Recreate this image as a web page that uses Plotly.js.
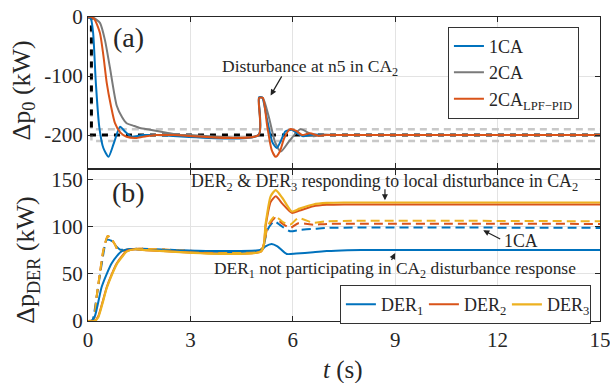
<!DOCTYPE html>
<html>
<head>
<meta charset="utf-8">
<script src="https://cdn.plot.ly/plotly-3.0.1.min.js"></script>
<style>html,body{margin:0;padding:0;background:#fff;}#chart{width:610px;height:383px;}</style>
</head>
<body>
<div id="chart"></div>
<script>
// ---------- Panel (a): Δp0 ----------
const tRef = [0, 0.1, 0.1, 15];
const pRef = [0, 0, -200, -200];
const pBandHi = [0, 0, -190, -190];
const pBandLo = [0, 0, -210, -210];

const t1CA = [0, 0.08, 0.15, 0.23, 0.33, 0.45, 0.6, 0.75, 0.94, 1.1, 1.28, 1.6, 2.0, 5.0, 5.01, 5.1, 5.25, 5.4, 5.53, 5.65, 5.78, 5.97, 6.15, 6.3, 6.6, 7.0, 15];
const p1CA = [0, -2, -27, -112, -186, -222, -237, -215, -186, -195, -203, -200, -200, -200, -136, -136, -175, -212, -222, -210, -194, -191, -198, -202, -199, -200, -200];

const t2CA = [0, 0.15, 0.35, 0.5, 0.64, 0.84, 1.0, 1.13, 1.32, 1.52, 1.82, 2.3, 2.7, 3.0, 5.0, 5.01, 5.12, 5.3, 5.48, 5.65, 5.9, 6.22, 6.45, 6.6, 6.9, 7.2, 15];
const p2CA = [0, -1, -10, -40, -85, -150, -170, -180, -184, -188, -191, -196, -200, -200, -200, -137, -137, -170, -212, -228, -210, -190, -196, -202, -199, -200, -200];

const tLPF = [0, 0.1, 0.2, 0.35, 0.45, 0.55, 0.67, 0.79, 0.95, 1.13, 1.43, 1.7, 2.0, 2.5, 5.0, 5.01, 5.12, 5.25, 5.38, 5.5, 5.62, 5.75, 5.92, 6.1, 6.27, 6.5, 6.75, 7.0, 15];
const pLPF = [0, 0, -5, -27, -65, -112, -150, -180, -196, -203, -205, -202, -200, -200, -200, -137, -137, -185, -225, -237, -228, -205, -190, -193, -200, -197, -201, -200, -200];

// ---------- Panel (b): Δp_DER ----------
const tDER1 = [0, 0.1, 0.2, 0.4, 0.55, 0.69, 0.85, 0.99, 1.28, 1.6, 2.0, 5.08, 5.2, 5.38, 5.55, 5.82, 6.1, 6.6, 7.0, 7.6, 8.0, 15];
const vDER1 = [0, 0, 5, 36, 50, 61, 69, 74, 76.3, 75.5, 75.3, 75.3, 79, 81.6, 79, 71, 71.5, 72.7, 74, 75, 75.3, 75.3];

const tDER23 = [0, 0.2, 0.3, 0.55, 0.7, 0.84, 1.0, 1.13, 1.38, 1.7, 2.2, 5.08, 5.2, 5.35, 5.5, 5.7, 5.97, 6.2, 6.6, 7.0, 7.5, 15];
const vDER2 = [0, 0, 5, 36, 50, 61, 69, 74, 76, 75, 74, 74, 100, 126, 132, 124, 114.5, 117, 121.5, 123, 123.5, 123.5];
const vDER3 = [0, 0, 4, 35, 49, 60, 68, 73.5, 76, 75, 74, 74, 102, 132, 138.6, 130, 116, 119, 123.4, 125, 125.5, 125.5];

const tDER1_1CA = [0, 0.12, 0.25, 0.4, 0.55, 0.68, 0.8, 0.95, 1.2, 1.5, 2.0, 5.08, 5.25, 5.45, 5.65, 5.92, 6.2, 6.6, 7.0, 15];
const vDER1_1CA = [0, 0, 25, 60, 86, 85, 80, 75.5, 76, 76.5, 76, 76, 96, 105.6, 101, 95, 96.5, 97.5, 98.6, 98.6];

const tDER23_1CA = [0, 0.16, 0.25, 0.35, 0.45, 0.58, 0.68, 0.79, 0.89, 1.0, 1.2, 1.5, 2.0, 5.08, 5.25, 5.48, 5.7, 5.92, 6.16, 6.6, 7.0, 15];
const vDER2_1CA = [0, 1, 25, 51, 75, 90, 87, 81, 74, 74, 76, 76.5, 76, 76, 98, 109, 103, 98.6, 103.5, 102, 102.8, 102.8];
const vDER3_1CA = [0, 1, 25, 51, 75, 90, 87, 81, 74, 74, 76, 76.5, 76, 76, 100, 111, 105, 102, 109, 104, 105.6, 105.6];

const xTicks = [0, 3, 6, 9, 12, 15];
const yTicksA = [0, -100, -200];
const yTickTextA = ['0', '-100', '-200'];
const yTicksB = [0, 50, 100, 150];

const BLUE = '#0072BD', ORANGE = '#D95319', YELLOW = '#EDB120', GRAY = '#7a7a7a';
const FONT = '"Liberation Serif"';
const sp = {shape: 'spline', smoothing: 0.6};

const traces = [
  {x: tRef, y: pBandHi, xaxis: 'x', yaxis: 'y', mode: 'lines', line: {color: '#c8c8c8', width: 2.5, dash: '7px,5px'}, showlegend: false, hoverinfo: 'skip'},
  {x: tRef, y: pBandLo, xaxis: 'x', yaxis: 'y', mode: 'lines', line: {color: '#c8c8c8', width: 2.5, dash: '7px,5px'}, showlegend: false, hoverinfo: 'skip'},
  {x: tRef, y: pRef, xaxis: 'x', yaxis: 'y', mode: 'lines', line: {color: '#000', width: 3, dash: '6px,6px'}, showlegend: false, hoverinfo: 'skip'},
  {x: t2CA, y: p2CA, xaxis: 'x', yaxis: 'y', mode: 'lines', name: '2CA', legendrank: 2, line: Object.assign({color: GRAY, width: 2}, sp)},
  {x: t1CA, y: p1CA, xaxis: 'x', yaxis: 'y', mode: 'lines', name: '1CA', legendrank: 1, line: Object.assign({color: BLUE, width: 2}, sp)},
  {x: tLPF, y: pLPF, xaxis: 'x', yaxis: 'y', mode: 'lines', name: '2CA<sub>LPF\u2212PID</sub>', legendrank: 3, line: Object.assign({color: ORANGE, width: 2}, sp)},

  {x: tDER1_1CA, y: vDER1_1CA, xaxis: 'x2', yaxis: 'y2', mode: 'lines', showlegend: false, line: Object.assign({color: BLUE, width: 2, dash: '9px,5px'}, sp)},
  {x: tDER23_1CA, y: vDER2_1CA, xaxis: 'x2', yaxis: 'y2', mode: 'lines', showlegend: false, line: Object.assign({color: ORANGE, width: 2, dash: '9px,5px'}, sp)},
  {x: tDER23_1CA, y: vDER3_1CA, xaxis: 'x2', yaxis: 'y2', mode: 'lines', showlegend: false, line: Object.assign({color: YELLOW, width: 2, dash: '9px,5px'}, sp)},
  {x: tDER1, y: vDER1, xaxis: 'x2', yaxis: 'y2', mode: 'lines', name: 'DER<sub>1</sub>', legend: 'legend2', line: Object.assign({color: BLUE, width: 2}, sp)},
  {x: tDER23, y: vDER2, xaxis: 'x2', yaxis: 'y2', mode: 'lines', name: 'DER<sub>2</sub>', legend: 'legend2', line: Object.assign({color: ORANGE, width: 2}, sp)},
  {x: tDER23, y: vDER3, xaxis: 'x2', yaxis: 'y2', mode: 'lines', name: 'DER<sub>3</sub>', legend: 'legend2', line: Object.assign({color: YELLOW, width: 2.2}, sp)}
];

const axCommon = {
  ticks: 'inside', ticklen: 5, tickcolor: '#262626', showline: true, linecolor: '#262626', linewidth: 1,
  mirror: 'ticks', showgrid: true, gridcolor: '#e3e3e3', zeroline: false, ticklabeloverflow: 'allow',
  tickfont: {family: FONT, size: 21, color: '#262626'}
};

const arrow = (xref, yref, x, y, ax, ay) => ({
  xref: xref, yref: yref, x: x, y: y, axref: xref, ayref: yref, ax: ax, ay: ay,
  text: '', showarrow: true, arrowhead: 2, arrowsize: 1, arrowwidth: 1.2, arrowcolor: '#222'
});
const txt = (xref, yref, x, y, text, size) => ({
  xref: xref, yref: yref, x: x, y: y, text: text, showarrow: false,
  font: {family: FONT, size: size, color: '#262626'}, xanchor: 'center', yanchor: 'middle'
});

const layout = {
  width: 610, height: 383,
  margin: {l: 88, r: 10, t: 17, b: 62, autoexpand: false},
  paper_bgcolor: '#fff', plot_bgcolor: '#fff',
  font: {family: FONT, color: '#262626'},
  xaxis: Object.assign({}, axCommon, {domain: [0, 1], anchor: 'y', range: [0, 15], tickvals: xTicks, showticklabels: false}),
  yaxis: Object.assign({}, axCommon, {domain: [0.503, 1], anchor: 'x', range: [-256, 0], tickvals: yTicksA, ticktext: yTickTextA}),
  xaxis2: Object.assign({}, axCommon, {domain: [0, 1], anchor: 'y2', range: [0, 15], tickvals: xTicks}),
  yaxis2: Object.assign({}, axCommon, {domain: [0, 0.497], anchor: 'x2', range: [0, 160], tickvals: yTicksB}),
  legend: {x: 0.703, y: 0.968, xanchor: 'left', yanchor: 'top', bgcolor: '#fff', bordercolor: '#333', borderwidth: 1,
    font: {family: FONT, size: 18, color: '#262626'}, itemwidth: 30, tracegroupgap: 0},
  legend2: {x: 0.492, y: 0.118, xanchor: 'left', yanchor: 'top', orientation: 'h', bgcolor: '#fff', bordercolor: '#333', borderwidth: 1,
    font: {family: FONT, size: 18, color: '#262626'}, itemwidth: 30, entrywidth: 38},
  annotations: [
    txt('x', 'y', 1.19, -35, '(a)', 28),
    txt('x2', 'y2', 1.19, 136, '(b)', 28),
    txt('x', 'y', 6.5, -85, 'Disturbance at n5 in CA<sub>2</sub>', 17.5),
    arrow('x', 'y', 5.35, -133, 5.7, -98),
    txt('x2', 'y2', 8.7, 147, 'DER<sub>2</sub> &amp; DER<sub>3</sub> responding to local disturbance in CA<sub>2</sub>', 17.8),
    arrow('x2', 'y2', 8.7, 128, 8.7, 141),
    txt('x2', 'y2', 12.7, 84.5, '1CA', 17.8),
    arrow('x2', 'y2', 11.58, 96, 12.12, 86),
    txt('x2', 'y2', 9.0, 55, 'DER<sub>1</sub> not participating in CA<sub>2</sub> disturbance response', 17.4),
    arrow('x2', 'y2', 9.0, 72, 8.87, 63),
    {xref: 'paper', yref: 'paper', x: -0.128, y: 0.76, text: '\u0394p<sub>0</sub> (kW)', textangle: -90, showarrow: false,
      font: {family: FONT, size: 26, color: '#262626'}, xanchor: 'center', yanchor: 'middle'},
    {xref: 'paper', yref: 'paper', x: -0.118, y: 0.2, text: '\u0394p<sub>DER</sub> (kW)', textangle: -90, showarrow: false,
      font: {family: FONT, size: 26, color: '#262626'}, xanchor: 'center', yanchor: 'middle'},
    {xref: 'paper', yref: 'paper', x: 0.499, y: -0.162, text: '<i>t</i> (s)', showarrow: false,
      font: {family: FONT, size: 25, color: '#262626'}, xanchor: 'center', yanchor: 'middle'}
  ]
};

Plotly.newPlot('chart', traces, layout, {displayModeBar: false, staticPlot: true});
</script>
</body>
</html>
